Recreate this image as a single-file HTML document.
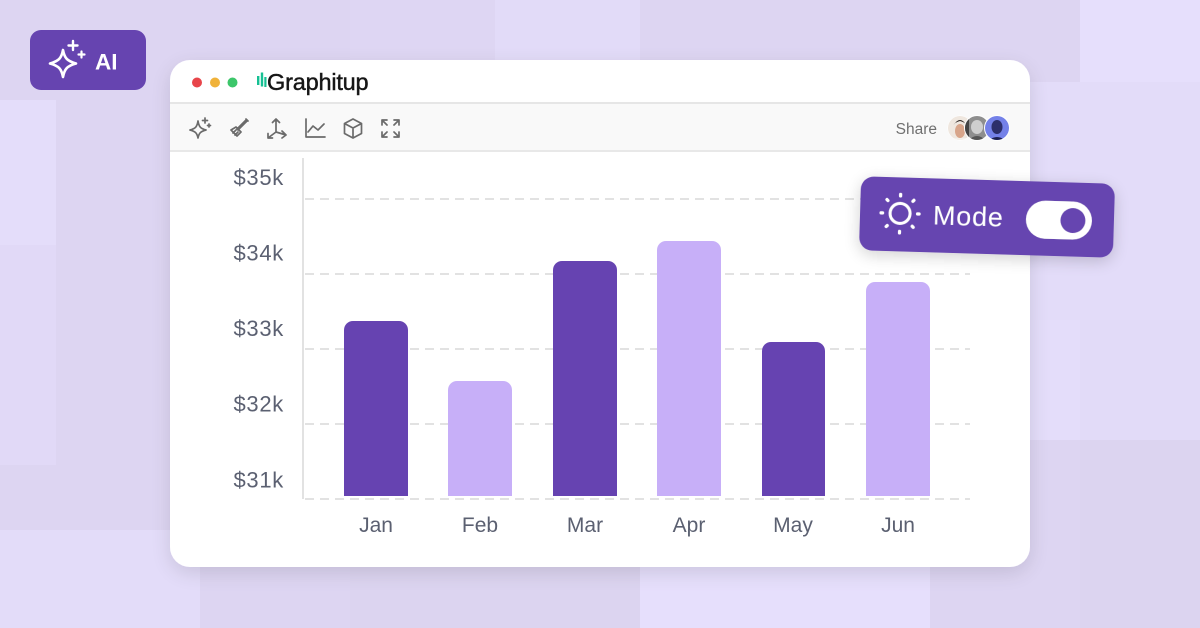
<!DOCTYPE html>
<html><head><meta charset="utf-8"><style>
html,body{margin:0;padding:0;width:1200px;height:628px;overflow:hidden;background:#ded6f3;}
svg{display:block;font-family:"Liberation Sans",Arial,sans-serif;}
</style></head><body>
<svg width="1200" height="628" viewBox="0 0 1200 628" xmlns="http://www.w3.org/2000/svg">
<defs>
<filter id="sh" x="-20%" y="-20%" width="140%" height="150%"><feGaussianBlur in="SourceAlpha" stdDeviation="10"/><feOffset dy="6"/><feComponentTransfer><feFuncA type="linear" slope="0.12"/></feComponentTransfer><feMerge><feMergeNode/><feMergeNode in="SourceGraphic"/></feMerge></filter>
<filter id="sh2" x="-20%" y="-40%" width="140%" height="180%"><feGaussianBlur in="SourceAlpha" stdDeviation="8"/><feOffset dy="4"/><feComponentTransfer><feFuncA type="linear" slope="0.18"/></feComponentTransfer><feMerge><feMergeNode/><feMergeNode in="SourceGraphic"/></feMerge></filter>
<clipPath id="c1"><circle cx="960" cy="128" r="12"/></clipPath>
<clipPath id="c2"><circle cx="977" cy="128" r="12"/></clipPath>
<clipPath id="c3"><circle cx="997" cy="128" r="12"/></clipPath>
</defs>
<!-- background tiles -->
<rect width="1200" height="628" fill="#ddd5f2"/>
<rect x="0" y="100" width="56" height="145" fill="#e4ddfa"/>
<rect x="0" y="245" width="56" height="220" fill="#e1d9f7"/>
<rect x="350" y="0" width="145" height="60" fill="#ded6f3"/>
<rect x="495" y="0" width="145" height="60" fill="#e2dbf8"/>
<rect x="1080" y="0" width="120" height="82" fill="#e6dffc"/>
<rect x="1030" y="82" width="170" height="240" fill="#e3dcf9"/>
<rect x="1080" y="320" width="120" height="120" fill="#e2dbf8"/>
<rect x="1030" y="320" width="50" height="120" fill="#e4ddfa"/>
<rect x="1080" y="440" width="120" height="200" fill="#dcd4f0"/>
<rect x="0" y="530" width="200" height="100" fill="#e3dcf9"/>
<rect x="640" y="567" width="290" height="61" fill="#e6dffc"/>
<rect x="350" y="567" width="290" height="61" fill="#dcd4f0"/>

<!-- AI badge -->
<rect x="30" y="30" width="116" height="60" rx="11" fill="#6644b0"/>
<path d="M63 50 C64.5 58 67 61 76 63.5 C67 66 64.5 69 63 77 C61.5 69 59 66 50 63.5 C59 61 61.5 58 63 50 Z" fill="none" stroke="#fff" stroke-width="2.6" stroke-linejoin="round"/>
<path d="M73 41 v9 M68.5 45.5 h9" stroke="#fff" stroke-width="2.4" stroke-linecap="round"/>
<path d="M81.5 51.5 v6 M78.5 54.5 h6" stroke="#fff" stroke-width="2.2" stroke-linecap="round"/>
<text x="95" y="69.5" font-size="22.5" font-weight="bold" fill="#fff">AI</text>

<!-- card -->
<g filter="url(#sh)">
<rect x="170" y="60" width="860" height="507" rx="20" fill="#fff"/>
</g>
<rect x="170" y="103" width="860" height="48" fill="#f9f9f9"/>
<rect x="170" y="102" width="860" height="2" fill="#e6e6e6"/>
<rect x="170" y="150" width="860" height="2" fill="#e8e8e8"/>

<!-- window dots -->
<circle cx="197" cy="82.5" r="5" fill="#e8454a"/>
<circle cx="215" cy="82.5" r="5" fill="#f0b23a"/>
<circle cx="232.5" cy="82.5" r="5" fill="#3cc66a"/>
<!-- logo -->
<rect x="257" y="76" width="2.4" height="9" fill="#16c093"/>
<rect x="260.8" y="72.5" width="2.4" height="14" fill="#16c093"/>
<rect x="264.3" y="77" width="2.2" height="10" fill="#16c093"/>
<text x="267" y="90" font-size="23.5" fill="#161616" stroke="#161616" stroke-width="0.45" letter-spacing="-0.2">Graphitup</text>

<!-- toolbar icons -->
<g fill="none" stroke="#6b6b6b" stroke-width="1.7" stroke-linecap="round" stroke-linejoin="round">
<path d="M198 121 C199 127 200.5 128.5 206 130 C200.5 131.5 199 133 198 138 C197 133 195.5 131.5 190 130 C195.5 128.5 197 127 198 121 Z"/>
<path d="M205 118 v5 M202.5 120.5 h5 M209 124 v3 M207.5 125.5 h3"/>
<path d="M246 120 l-9 9 M247 121 l-9 9 M236 127 l5 5 l-4 4 l-6 -6 z M233 133 l3 -3 M235 135 l3 -3 M246 119 l2 2"/>
<path d="M276 119 v13 l-8 6 M276 132 l10 3 M272.5 122.5 l3.5 -3.5 l3.5 3.5 M268 133.5 v4.5 h4.5 M282 131 l4 4 l-4 3"/>
<path d="M306 119 v18 h19 M308 132 l5 -6 l5 4 l6 -6"/>
<path d="M353 119 l8.5 4.5 v10 l-8.5 4.5 l-8.5 -4.5 v-10 z M344.5 123.5 l8.5 4.5 l8.5 -4.5 M353 128 v10"/>
<path d="M382 120 h5 M382 120 v5 M382 120 l5 5 M399 120 h-5 M399 120 v5 M399 120 l-5 5 M382 137 h5 M382 137 v-5 M382 137 l5 -5 M399 137 h-5 M399 137 v-5 M399 137 l-5 -5"/>
</g>
<text x="937" y="134" font-size="15.5" fill="#707070" text-anchor="end">Share</text>
<!-- avatars -->
<g>
<circle cx="960" cy="128" r="12.5" fill="#fff"/>
<g clip-path="url(#c1)"><rect x="946" y="114" width="28" height="28" fill="#efe7df"/><ellipse cx="960" cy="131" rx="5" ry="7" fill="#d8a58a"/><path d="M953 126 q7 -12 14 0 q-2 -4 -7 -5 q-5 1 -7 5z" fill="#2a2422"/><rect x="954" y="138" width="12" height="5" fill="#f4f0ea"/></g>
<circle cx="977" cy="128" r="13" fill="#fff"/>
<g clip-path="url(#c2)"><rect x="963" y="114" width="28" height="28" fill="#8e8e8e"/><ellipse cx="977" cy="127" rx="6" ry="7" fill="#cfcfcf"/><path d="M967 142 q10 -12 20 0z" fill="#555"/><rect x="963" y="114" width="6" height="28" fill="#444"/></g>
<circle cx="997" cy="128" r="13" fill="#fff"/>
<g clip-path="url(#c3)"><rect x="983" y="114" width="28" height="28" fill="#7481e8"/><ellipse cx="997" cy="127" rx="5.5" ry="7" fill="#2d2f6a"/><path d="M987 142 q10 -10 20 0z" fill="#1d2050"/></g>
</g>

<!-- chart grid -->
<g stroke="#e2e2e2" stroke-width="2" stroke-dasharray="9 6">
<line x1="305" y1="199" x2="970" y2="199"/>
<line x1="305" y1="274" x2="970" y2="274"/>
<line x1="305" y1="349" x2="970" y2="349"/>
<line x1="305" y1="424" x2="970" y2="424"/>
<line x1="305" y1="499" x2="970" y2="499"/>
</g>
<line x1="303" y1="158" x2="303" y2="499" stroke="#e2e2e2" stroke-width="2"/>

<!-- y labels -->
<g font-size="22" fill="#5b6071" text-anchor="end" letter-spacing="0.7">
<text x="284" y="185">$35k</text>
<text x="284" y="260.5">$34k</text>
<text x="284" y="336">$33k</text>
<text x="284" y="411.5">$32k</text>
<text x="284" y="487.5">$31k</text>
</g>

<!-- bars -->
<path d="M344 496 V330 a9 9 0 0 1 9 -9 H399 a9 9 0 0 1 9 9 V496 Z" fill="#6643b1"/>
<path d="M448 496 V390 a9 9 0 0 1 9 -9 H503 a9 9 0 0 1 9 9 V496 Z" fill="#c7aff8"/>
<path d="M553 496 V270 a9 9 0 0 1 9 -9 H608 a9 9 0 0 1 9 9 V496 Z" fill="#6643b1"/>
<path d="M657 496 V250 a9 9 0 0 1 9 -9 H712 a9 9 0 0 1 9 9 V496 Z" fill="#c7aff8"/>
<path d="M762 496 V351 a9 9 0 0 1 9 -9 H816 a9 9 0 0 1 9 9 V496 Z" fill="#6643b1"/>
<path d="M866 496 V291 a9 9 0 0 1 9 -9 H921 a9 9 0 0 1 9 9 V496 Z" fill="#c7aff8"/>

<!-- x labels -->
<g font-size="21" fill="#5b6071" text-anchor="middle">
<text x="376" y="532">Jan</text>
<text x="480" y="532">Feb</text>
<text x="585" y="532">Mar</text>
<text x="689" y="532">Apr</text>
<text x="793" y="532">May</text>
<text x="898" y="532">Jun</text>
</g>

<!-- Mode badge -->
<g transform="rotate(1.7 987 217)" filter="url(#sh2)">
<rect x="860" y="180" width="254" height="74" rx="13" fill="#6644b0"/>
<circle cx="900" cy="216" r="10" fill="none" stroke="#fff" stroke-width="3"/>
<g stroke="#fff" stroke-width="3.2" stroke-linecap="round">
<path d="M900 197 v1.5 M900 234 v1.5 M881 216 h1.5 M917.5 216 h1.5 M886.5 202.5 l1 1 M912.5 228.5 l1 1 M913.5 202.5 l-1 1 M887.5 228.5 l-1 1"/>
</g>
<text x="933" y="226" font-size="27" fill="#fff" letter-spacing="0.8">Mode</text>
<rect x="1026" y="199" width="66" height="38" rx="19" fill="#fff"/>
<circle cx="1073" cy="218" r="12.5" fill="#6644b0"/>
</g>
</svg>
</body></html>
